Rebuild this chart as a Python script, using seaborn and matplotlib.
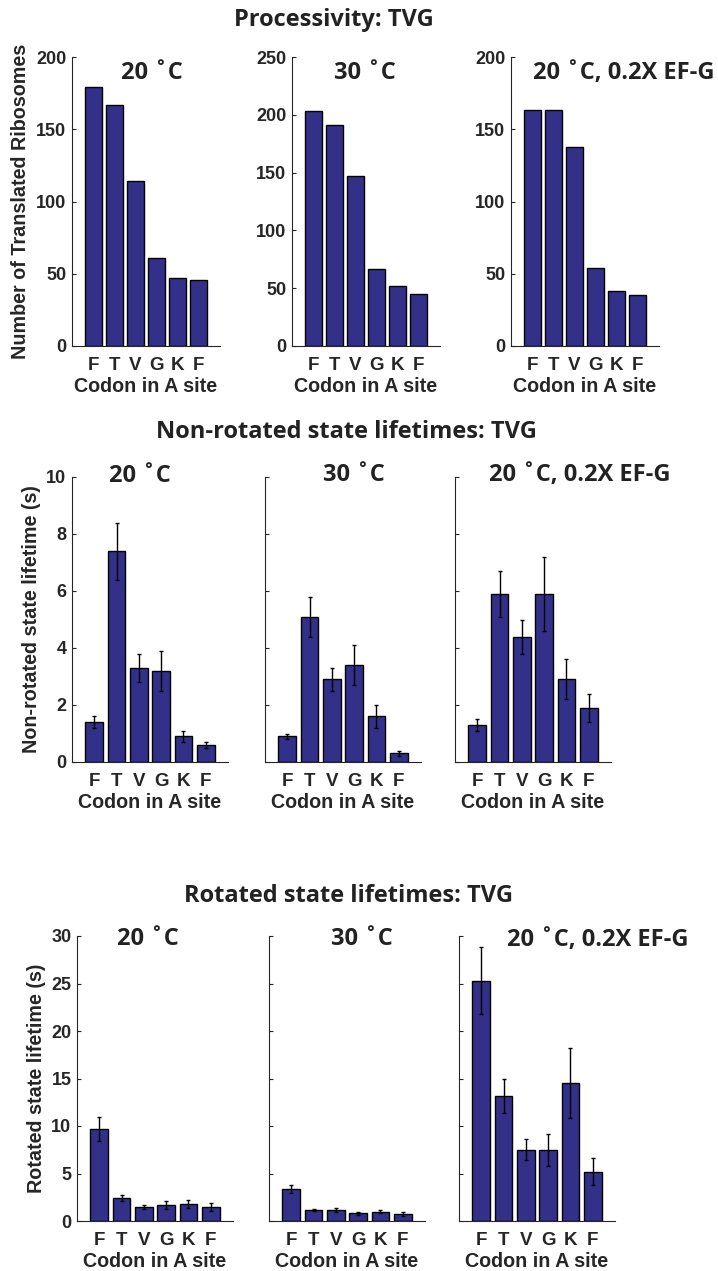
import numpy as np
import pandas as pd
import matplotlib
matplotlib.use("Agg")
import matplotlib.pyplot as plt
import seaborn as sns

# data
codons = ["F", "T", "V", "G", "K", "F"]
conditions = ["20 \u02daC", "30 \u02daC", "20 \u02daC, 0.2X EF-G"]

proc_20 = [179, 167, 114, 61, 47, 46]
proc_30 = [203, 191, 147, 67, 52, 45]
proc_20_efg = [163, 163, 138, 54, 38, 35]

nonrot_20 = [1.4, 7.4, 3.3, 3.2, 0.9, 0.6]
nonrot_20_err = [0.2, 1.0, 0.5, 0.7, 0.2, 0.1]
nonrot_30 = [0.9, 5.1, 2.9, 3.4, 1.6, 0.3]
nonrot_30_err = [0.1, 0.7, 0.4, 0.7, 0.4, 0.1]
nonrot_20_efg = [1.3, 5.9, 4.4, 5.9, 2.9, 1.9]
nonrot_20_efg_err = [0.2, 0.8, 0.6, 1.3, 0.7, 0.5]

rot_20 = [9.7, 2.4, 1.5, 1.7, 1.8, 1.5]
rot_20_err = [1.3, 0.3, 0.2, 0.4, 0.4, 0.4]
rot_30 = [3.4, 1.2, 1.2, 0.8, 1.0, 0.7]
rot_30_err = [0.4, 0.1, 0.2, 0.2, 0.2, 0.2]
rot_20_efg = [25.3, 13.2, 7.5, 7.5, 14.5, 5.2]
rot_20_efg_err = [3.5, 1.8, 1.1, 1.7, 3.7, 1.4]

bar_color = "#33308A"
txt_color = "#262626"
title_font = ["Open Sans", "DejaVu Sans"]

sns.set_style("ticks")
plt.rcParams["font.family"] = ["Liberation Sans", "DejaVu Sans"]
plt.rcParams["font.weight"] = "bold"
plt.rcParams["axes.labelweight"] = "bold"
plt.rcParams["ytick.direction"] = "in"
plt.rcParams["axes.edgecolor"] = txt_color
plt.rcParams["xtick.color"] = txt_color
plt.rcParams["ytick.color"] = txt_color

W, H = 718, 1271
fig = plt.figure(figsize=(W / 100, H / 100), dpi=100)


def px_rect(left, top, width, height):
    return [left / W, 1 - (top + height) / H, width / W, height / H]


def draw_panel(rect, vals, err, ymax, ystep, ylabel, show_ylabels, title, title_xy):
    ax = fig.add_axes(px_rect(*rect))
    df = pd.DataFrame({"pos": [str(i) for i in range(len(vals))], "val": vals})
    sns.barplot(data=df, x="pos", y="val", ax=ax, color=bar_color, saturation=1,
                width=0.8, edgecolor="black", linewidth=1, errorbar=None)
    if err is not None:
        ax.errorbar(np.arange(len(vals)), vals, yerr=err, fmt="none", ecolor="black",
                    elinewidth=1, capsize=1.5, capthick=1)
    ax.set_xlim(-1, 6)
    ax.set_ylim(0, ymax)
    ax.set_yticks(np.arange(0, ymax + 0.001, ystep))
    ax.set_xticks(np.arange(len(vals)))
    ax.set_xticklabels(codons, fontsize=13.5, color=txt_color, fontweight="bold")
    ax.tick_params(axis="x", length=0, pad=8)
    ax.tick_params(axis="y", length=3, width=0.8, pad=4, labelsize=13)
    if not show_ylabels:
        ax.set_yticklabels([])
    ax.set_xlabel("Codon in A site", fontsize=14.2, color=txt_color,
                  fontweight="bold", labelpad=2)
    ax.set_ylabel(ylabel, fontsize=14.2, color=txt_color, fontweight="bold")
    for s in ["top", "right"]:
        ax.spines[s].set_visible(False)
    for s in ["left", "bottom"]:
        ax.spines[s].set_linewidth(0.8)
    fig.text(title_xy[0] / W, 1 - title_xy[1] / H, title, family=title_font,
             fontweight="bold", fontsize=17, color="#222222", ha="center", va="center")
    return ax


# row 1: processivity
row1 = [(proc_20, 200), (proc_30, 250), (proc_20_efg, 200)]
lefts1 = [72, 292, 511]
tpos1 = [(152, 73), (365, 73), (624, 73)]
for i, (vals, ymax) in enumerate(row1):
    ax = draw_panel((lefts1[i], 57, 148, 289), vals, None, ymax, 50,
                    "Number of Translated Ribosomes" if i == 0 else "", True,
                    conditions[i], tpos1[i])
    if i == 0:
        ax.yaxis.set_label_coords(-42 / 148, 0.5)

# row 2: non-rotated lifetimes
row2 = [(nonrot_20, nonrot_20_err), (nonrot_30, nonrot_30_err),
        (nonrot_20_efg, nonrot_20_efg_err)]
lefts2 = [72, 265, 455]
tpos2 = [(140, 476), (354, 475), (580, 475)]
for i, (vals, err) in enumerate(row2):
    ax = draw_panel((lefts2[i], 477, 156, 285), vals, err, 10, 2,
                    "Non-rotated state lifetime (s)" if i == 0 else "", i == 0,
                    conditions[i], tpos2[i])
    if i == 0:
        ax.yaxis.set_label_coords(-31 / 156, 0.5)

# row 3: rotated lifetimes
row3 = [(rot_20, rot_20_err), (rot_30, rot_30_err), (rot_20_efg, rot_20_efg_err)]
lefts3 = [77, 269, 459]
tpos3 = [(148, 939), (362, 939), (598, 940)]
for i, (vals, err) in enumerate(row3):
    ax = draw_panel((lefts3[i], 936, 156, 285), vals, err, 30, 5,
                    "Rotated state lifetime (s)" if i == 0 else "", i == 0,
                    conditions[i], tpos3[i])
    if i == 0:
        ax.yaxis.set_label_coords(-31 / 156, 0.5)

# row headings
for txt, (x, y) in [("Processivity: TVG", (334, 20)),
                    ("Non-rotated state lifetimes: TVG", (346, 432)),
                    ("Rotated state lifetimes: TVG", (348, 896))]:
    fig.text(x / W, 1 - y / H, txt, family=title_font, fontweight="bold",
             fontsize=17, color="#222222", ha="center", va="center")

fig.savefig("out.png", dpi=100)
